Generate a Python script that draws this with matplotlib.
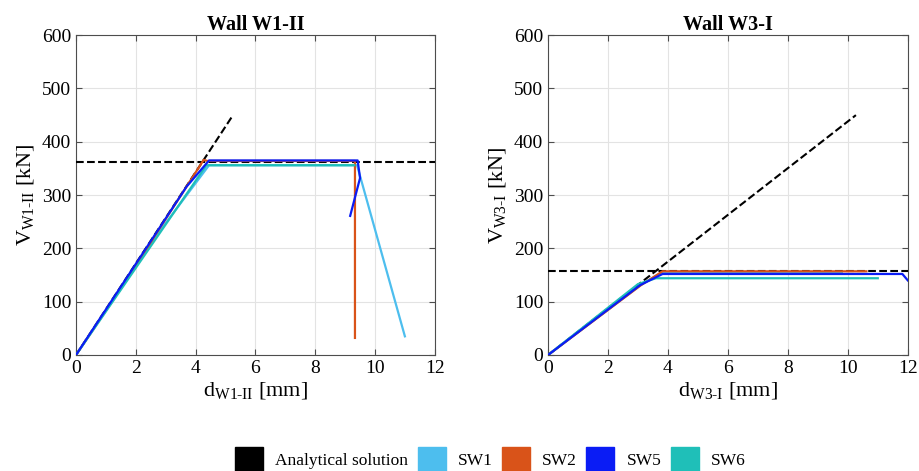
import numpy as np
import matplotlib.pyplot as plt
from matplotlib.patches import Patch

plt.rcParams['font.family'] = ['Liberation Serif', 'DejaVu Serif']
plt.rcParams['mathtext.fontset'] = 'custom'
plt.rcParams['mathtext.rm'] = 'Liberation Serif'
plt.rcParams['mathtext.it'] = 'Liberation Serif:italic'

# colours (MATLAB-like)
c_an = 'black'
c_sw1 = '#4DBEEE'
c_sw2 = '#D95319'
c_sw5 = '#0A1CF5'
c_sw6 = '#1FBFB8'

# ---- Wall W1-II ----
w1_an_slope_x = [0, 5.25]
w1_an_slope_y = [0, 450]
w1_an_cap = 363

w1_sw1_x = [0, 2.5, 4.45, 9.4, 11.0]
w1_sw1_y = [0, 210, 356, 356, 35]
w1_sw2_x = [0, 2.38, 2.62, 4.27, 4.4, 9.33, 9.33]
w1_sw2_y = [0, 198, 222, 366, 364, 364, 32]
w1_sw5_x = [0, 3.7, 4.45, 9.42, 9.5, 9.17]
w1_sw5_y = [0, 316, 365, 365, 332, 261]
w1_sw6_x = [0, 4.36, 9.31]
w1_sw6_y = [0, 356, 356]

# ---- Wall W3-I ----
w3_an_slope_x = [0, 10.27]
w3_an_slope_y = [0, 450]
w3_an_cap = 157

w3_sw1_x = [0, 3.1, 3.8, 9.8]
w3_sw1_y = [0, 132, 155, 155]
w3_sw2_x = [0, 3.1, 3.82, 10.62]
w3_sw2_y = [0, 131, 157, 157]
w3_sw5_x = [0, 3.07, 3.82, 11.82, 12.0]
w3_sw5_y = [0, 131, 152, 152, 140]
w3_sw6_x = [0, 3.0, 3.6, 11.0]
w3_sw6_y = [0, 133, 144, 144]


def style_axis(ax, title, xlab, ylab):
    ax.set_xlim(0, 12)
    ax.set_ylim(0, 600)
    ax.set_xticks(np.arange(0, 13, 2))
    ax.set_yticks(np.arange(0, 601, 100))
    ax.grid(True, color='#e3e3e3', linewidth=0.8)
    ax.set_axisbelow(True)
    ax.tick_params(direction='in', top=True, right=True, labelsize=14,
                   color='#4d4d4d', length=4)
    for s in ax.spines.values():
        s.set_color('#4d4d4d')
        s.set_linewidth(0.8)
    ax.set_title(title, fontsize=14.5, fontweight='bold', pad=4)
    ax.set_xlabel(xlab, fontsize=16, labelpad=2)
    ax.set_ylabel(ylab, fontsize=16, labelpad=4)


def plot_wall(ax, an_x, an_y, cap, curves):
    ax.plot(an_x, an_y, '--', color=c_an, lw=1.5, zorder=3)
    ax.plot([0, 12], [cap, cap], '--', color=c_an, lw=1.5, zorder=3)
    for (x, y, c) in curves:
        ax.plot(x, y, color=c, lw=1.6, zorder=4)


fig = plt.figure(figsize=(9.2, 4.71), dpi=100)
ax1 = fig.add_axes([0.0826, 0.2463, 0.390, 0.679])
ax2 = fig.add_axes([0.5957, 0.2463, 0.391, 0.679])

plot_wall(ax1, w1_an_slope_x, w1_an_slope_y, w1_an_cap, [
    (w1_sw1_x, w1_sw1_y, c_sw1),
    (w1_sw2_x, w1_sw2_y, c_sw2),
    (w1_sw6_x, w1_sw6_y, c_sw6),
    (w1_sw5_x, w1_sw5_y, c_sw5),
])
plot_wall(ax2, w3_an_slope_x, w3_an_slope_y, w3_an_cap, [
    (w3_sw1_x, w3_sw1_y, c_sw1),
    (w3_sw2_x, w3_sw2_y, c_sw2),
    (w3_sw6_x, w3_sw6_y, c_sw6),
    (w3_sw5_x, w3_sw5_y, c_sw5),
])

style_axis(ax1, 'Wall W1-II', r'd$_{\mathrm{W1\text{-}II}}$ [mm]', r'V$_{\mathrm{W1\text{-}II}}$ [kN]')
style_axis(ax2, 'Wall W3-I', r'd$_{\mathrm{W3\text{-}I}}$ [mm]', r'V$_{\mathrm{W3\text{-}I}}$ [kN]')

handles = [Patch(facecolor=c, edgecolor=c) for c in [c_an, c_sw1, c_sw2, c_sw5, c_sw6]]
labels = ['Analytical solution', 'SW1', 'SW2', 'SW5', 'SW6']
fig.legend(handles, labels, loc='center', bbox_to_anchor=(0.533, 0.024), ncol=5,
           frameon=False, fontsize=12.5, handlelength=1.6, handleheight=1.9,
           handletextpad=0.7, columnspacing=0.55, borderpad=0)

fig.savefig('out.png', dpi=100)
